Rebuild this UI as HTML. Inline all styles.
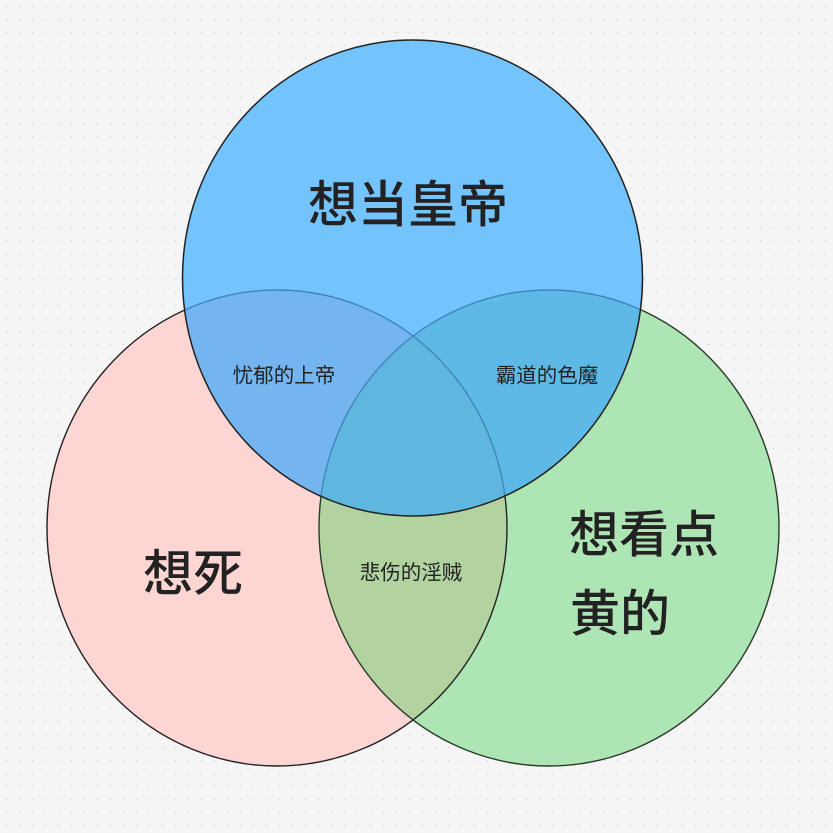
<!DOCTYPE html>
<html><head><meta charset="utf-8"><style>
html,body{margin:0;padding:0;background:#f5f5f5}
svg{display:block}
text{font-family:"Liberation Sans","Noto Sans CJK SC",sans-serif;fill:#222;text-anchor:middle;dominant-baseline:central}
</style></head><body>
<svg width="833" height="833" viewBox="0 0 833 833">
<defs>
<pattern id="dots" width="13" height="13" patternUnits="userSpaceOnUse"><circle cx="6.5" cy="6.5" r="0.8" fill="#cfcfcf"/></pattern>
<clipPath id="cp"><ellipse cx="277" cy="528" rx="230" ry="238"/></clipPath>
<clipPath id="cg"><ellipse cx="549" cy="528" rx="230" ry="238"/></clipPath>
<clipPath id="cb"><ellipse cx="412.5" cy="278" rx="230" ry="238"/></clipPath>
</defs>
<rect width="833" height="833" fill="#f5f5f5"/>
<rect width="833" height="833" fill="url(#dots)"/>
<ellipse cx="277" cy="528" rx="230" ry="238" fill="#fdd6d3"/>
<ellipse cx="549" cy="528" rx="230" ry="238" fill="#aee5b5"/>
<ellipse cx="549" cy="528" rx="230" ry="238" fill="#b2d3a0" clip-path="url(#cp)"/>
<ellipse cx="277" cy="528" rx="230" ry="238" fill="none" stroke="#222" stroke-width="1.4"/>
<ellipse cx="549" cy="528" rx="230" ry="238" fill="none" stroke="#2a3a2a" stroke-width="1.4"/>
<ellipse cx="412.5" cy="278" rx="230" ry="238" fill="#73c3fd"/>
<g clip-path="url(#cb)">
<ellipse cx="277" cy="528" rx="230" ry="238" fill="#74b5ef"/>
<ellipse cx="549" cy="528" rx="230" ry="238" fill="#5db9e6"/>
<g clip-path="url(#cp)"><ellipse cx="549" cy="528" rx="230" ry="238" fill="#5fb6df"/></g>
<ellipse cx="277" cy="528" rx="230" ry="238" fill="none" stroke="#3f86bd" stroke-width="1.4"/>
<ellipse cx="549" cy="528" rx="230" ry="238" fill="none" stroke="#3f86bd" stroke-width="1.4"/>
</g>
<ellipse cx="412.5" cy="278" rx="230" ry="238" fill="none" stroke="#222" stroke-width="1.5"/>
<text x="408" y="205" font-size="50" font-weight="500">想当皇帝</text>
<text x="193" y="574" font-size="50" font-weight="500">想死</text>
<text x="644" y="535" font-size="50" font-weight="500">想看点</text>
<text x="620" y="614" font-size="50" font-weight="500">黄的</text>
<text x="284" y="376" font-size="20.5">忧郁的上帝</text>
<text x="547" y="376" font-size="20.5">霸道的色魔</text>
<text x="411" y="573" font-size="20.5">悲伤的淫贼</text>
</svg>
</body></html>
